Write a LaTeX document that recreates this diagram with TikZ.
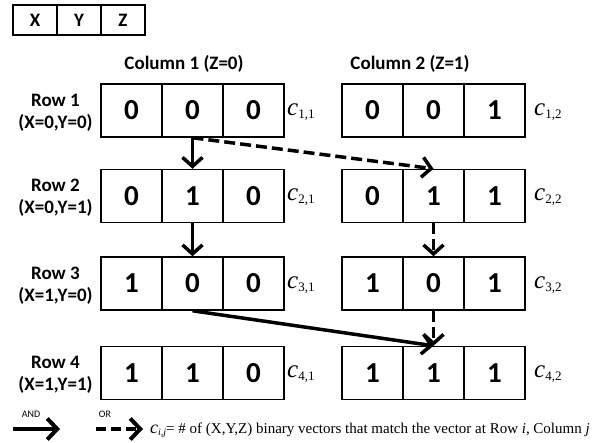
\documentclass[tikz,border=0pt]{standalone}
\usepackage{fontspec}
\setmainfont{Liberation Serif}
\newfontfamily\carl{Carlito}
\usetikzlibrary{arrows.meta}
\newcommand{\clab}[1]{{\fontsize{25}{25}\selectfont\textit{c}}\raisebox{-3pt}{\fontsize{13}{13}\selectfont #1}}
\tikzset{
  cell/.style={draw, line width=1.5pt, minimum width=61pt, minimum height=53pt, inner sep=0pt, font=\carl\bfseries\fontsize{29}{29}\selectfont},
  hcell/.style={draw, line width=1.5pt, minimum width=44pt, minimum height=30pt, inner sep=0pt, font=\carl\bfseries\fontsize{19}{19}\selectfont},
  rowlab/.style={anchor=base, font=\carl\bfseries\fontsize{19}{19}\selectfont, inner sep=0pt},
  collab/.style={anchor=base, font=\carl\bfseries\fontsize{19}{19}\selectfont, inner sep=0pt},
  clabel/.style={anchor=base west, inner sep=0pt},
  andarrow/.style={line width=3.5pt, -{Straight Barb[length=9pt,width=20pt]}},
  orarrow/.style={line width=3.5pt, dash pattern=on 11pt off 5pt, -{Straight Barb[length=9pt,width=20pt]}},
  legand/.style={line width=4pt, -{Straight Barb[length=10pt,width=21pt]}},
  legor/.style={line width=4pt, dash pattern=on 10pt off 5pt, -{Straight Barb[length=10pt,width=21pt]}},
}
\begin{document}
\begin{tikzpicture}[x=1pt,y=-1pt]
\useasboundingbox (0,0) rectangle (593,442);
% header XYZ
\node[hcell] (hx) at (35,20) {X};
\node[hcell] (hy) at (79,20) {Y};
\node[hcell] (hz) at (123,20) {Z};
% column labels
\node[collab] (col1) at (184,69) {Column 1 (Z=0)};
\node[collab] (col2) at (410,69) {Column 2 (Z=1)};
% row labels
\node[rowlab] (row1a) at (55.5,106) {Row 1};
\node[rowlab] (row1b) at (55.5,128) {(X=0,Y=0)};
\node[rowlab] (row2a) at (55.5,191.5) {Row 2};
\node[rowlab] (row2b) at (55.5,213.5) {(X=0,Y=1)};
\node[rowlab] (row3a) at (55.5,279) {Row 3};
\node[rowlab] (row3b) at (55.5,301) {(X=1,Y=0)};
\node[rowlab] (row4a) at (55.5,368.5) {Row 4};
\node[rowlab] (row4b) at (55.5,390.5) {(X=1,Y=1)};
% row 1
\node[cell] (r1a) at (131.5,110.5) {0};
\node[cell] (r1b) at (192.5,110.5) {0};
\node[cell] (r1c) at (253.5,110.5) {0};
\node[cell] (s1a) at (372.5,110.5) {0};
\node[cell] (s1b) at (433.5,110.5) {0};
\node[cell] (s1c) at (494.5,110.5) {1};
% row 2
\node[cell] (r2a) at (131.5,196) {0};
\node[cell] (r2b) at (192.5,196) {1};
\node[cell] (r2c) at (253.5,196) {0};
\node[cell] (s2a) at (372.5,196) {0};
\node[cell] (s2b) at (433.5,196) {1};
\node[cell] (s2c) at (494.5,196) {1};
% row 3
\node[cell] (r3a) at (131.5,283.5) {1};
\node[cell] (r3b) at (192.5,283.5) {0};
\node[cell] (r3c) at (253.5,283.5) {0};
\node[cell] (s3a) at (372.5,283.5) {1};
\node[cell] (s3b) at (433.5,283.5) {0};
\node[cell] (s3c) at (494.5,283.5) {1};
% row 4
\node[cell] (r4a) at (131.5,373) {1};
\node[cell] (r4b) at (192.5,373) {1};
\node[cell] (r4c) at (253.5,373) {0};
\node[cell] (s4a) at (372.5,373) {1};
\node[cell] (s4b) at (433.5,373) {1};
\node[cell] (s4c) at (494.5,373) {1};
% c labels
\node[clabel] (c11) at (287,115) {\clab{1,1}};
\node[clabel] (c12) at (534,115) {\clab{1,2}};
\node[clabel] (c21) at (287,200.5) {\clab{2,1}};
\node[clabel] (c22) at (534,200.5) {\clab{2,2}};
\node[clabel] (c31) at (287,288) {\clab{3,1}};
\node[clabel] (c32) at (534,288) {\clab{3,2}};
\node[clabel] (c41) at (287,377.5) {\clab{4,1}};
\node[clabel] (c42) at (534,377.5) {\clab{4,2}};
% arrows
\draw[andarrow] (r1b.south) -- (r2b.north);
\draw[orarrow] (r1b.south) -- (s2b.north);
\draw[andarrow] (r2b.south) -- (r3b.north);
\draw[orarrow] (s2b.south) -- (s3b.north);
\draw[andarrow] (r3b.south) -- (s4b.north);
\draw[orarrow] (s3b.south) -- (s4b.north);
% legend
\node[font=\carl\fontsize{10}{10}\selectfont, inner sep=0pt] (andlab) at (31,414) {AND};
\coordinate (and1) at (13,429);
\coordinate (and2) at (60,429);
\draw[legand] (and1) -- (and2);
\node[font=\carl\fontsize{10}{10}\selectfont, inner sep=0pt] (orlab) at (105,414) {OR};
\coordinate (or1) at (96,429);
\coordinate (or2) at (143,429);
\draw[legor] (or1) -- (or2);
\node[anchor=base west, inner sep=0pt, font=\fontsize{15}{15}\selectfont] (legtext) at (150,433) {{\fontsize{18}{18}\selectfont\textit{c}}\raisebox{-2.5pt}{\fontsize{10}{10}\selectfont\textit{i,j}}= \# of (X,Y,Z) binary vectors that match the vector at Row \textit{i}, Column \textit{j}};
\end{tikzpicture}
\end{document}
